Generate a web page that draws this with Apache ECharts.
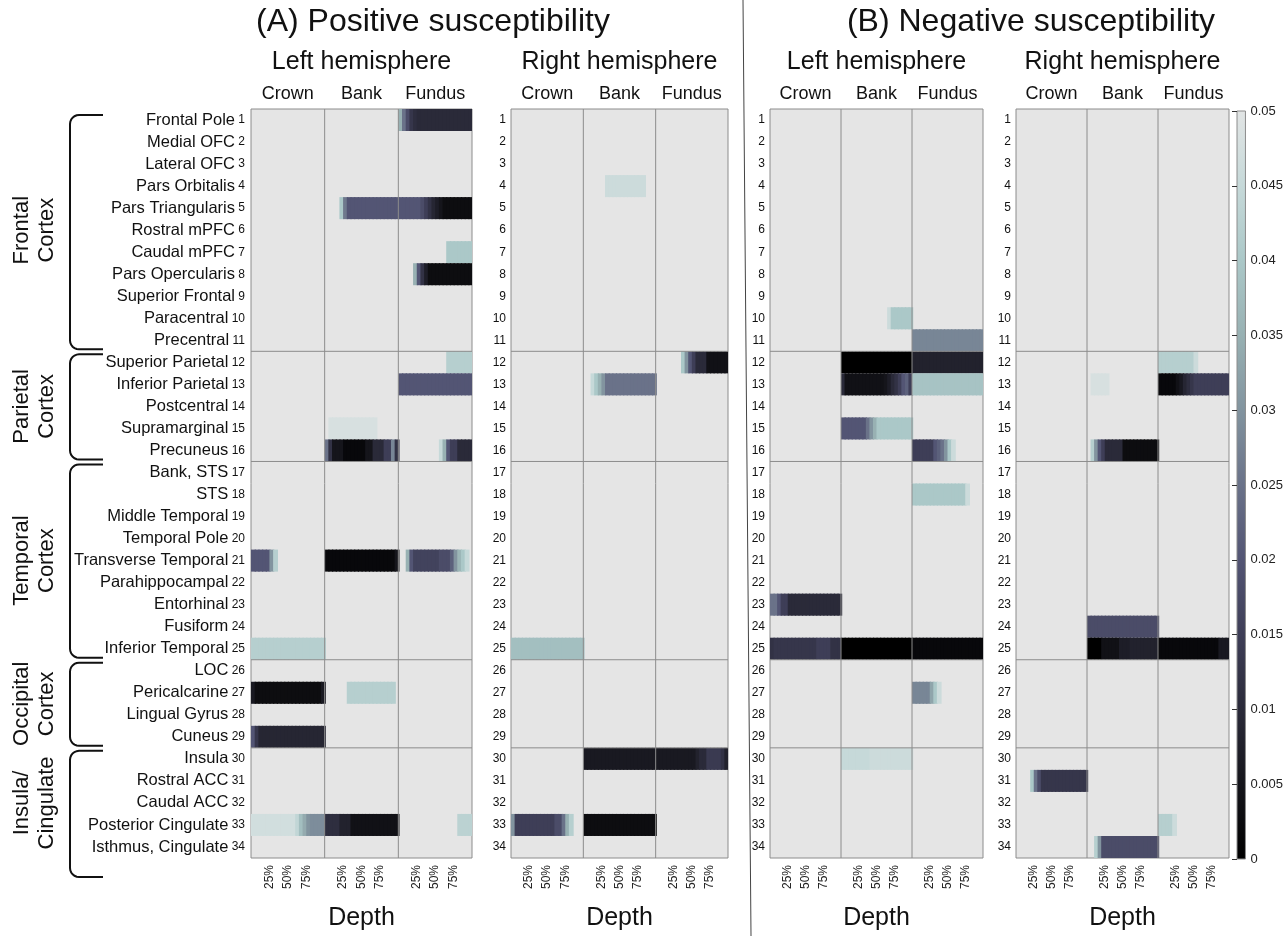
<!DOCTYPE html>
<html>
<head>
<meta charset="utf-8" />
<title>Positive and negative susceptibility by depth</title>
<script src="https://cdn.jsdelivr.net/npm/echarts@6/dist/echarts.min.js"></script>
<style>body{margin:0;background:#fff}</style>
</head>
<body>
<div id="grafico" style="width:1286px;height:936px"></div>
<script>
const _ = null; // not significant

const regions = ['Frontal Pole','Medial OFC','Lateral OFC','Pars Orbitalis','Pars Triangularis','Rostral mPFC',
  'Caudal mPFC','Pars Opercularis','Superior Frontal','Paracentral','Precentral','Superior Parietal',
  'Inferior Parietal','Postcentral','Supramarginal','Precuneus','Bank, STS','STS','Middle Temporal',
  'Temporal Pole','Transverse Temporal','Parahippocampal','Entorhinal','Fusiform','Inferior Temporal',
  'LOC','Pericalcarine','Lingual Gyrus','Cuneus','Insula','Rostral ACC','Caudal ACC',
  'Posterior Cingulate','Isthmus, Cingulate'];
const rowNumbers = regions.map((r, i) => String(i + 1));
const lobeNames = ['Frontal\nCortex', 'Parietal\nCortex', 'Temporal\nCortex', 'Occipital\nCortex', 'Insula/\nCingulate'];
const lobeEnds = [11, 16, 25, 29, 34];
const parts = ['Crown', 'Bank', 'Fundus'];
const depthTicks = ['25%', '50%', '75%'];
const groupTitles = ['(A) Positive susceptibility', '(B) Negative susceptibility'];
const panelTitles = ['Left hemisphere', 'Right hemisphere', 'Left hemisphere', 'Right hemisphere'];
const ramp = ['#000000','#15151b','#2a2a39','#3e3e57','#535574','#6a7289','#82949f','#98b1b3','#abc8c8','#c6d9d9','#e2e5e5'];
const BINS = 20; // depth samples per compartment, 0-100%

// [row, compartment (0 crown, 1 bank, 2 fundus), p-value per depth bin]
const posLeft = [
  [1, 2, [0.035,0.025,0.018,0.013,0.011,0.01,0.01,0.01,0.01,0.01,0.01,0.01,0.01,0.01,0.01,0.01,0.01,0.01,0.01,0.01]],
  [5, 1, [_,_,_,_,0.04,0.026,0.02,0.02,0.02,0.02,0.02,0.02,0.02,0.02,0.02,0.02,0.02,0.02,0.02,0.02]],
  [5, 2, [0.02,0.02,0.02,0.02,0.02,0.02,0.018,0.015,0.012,0.009,0.007,0.005,0.003,0.003,0.003,0.003,0.003,0.003,0.003,0.003]],
  [7, 2, [_,_,_,_,_,_,_,_,_,_,_,_,_,0.04,0.04,0.04,0.04,0.04,0.04,0.04]],
  [8, 2, [_,_,_,_,0.035,0.02,0.012,0.007,0.003,0.003,0.003,0.003,0.003,0.003,0.003,0.003,0.003,0.003,0.003,0.003]],
  [12, 2, [_,_,_,_,_,_,_,_,_,_,_,_,_,0.042,0.042,0.042,0.042,0.042,0.042,0.042]],
  [13, 2, [0.02,0.02,0.02,0.02,0.02,0.02,0.02,0.02,0.02,0.02,0.02,0.02,0.02,0.02,0.02,0.02,0.02,0.02,0.02,0.02]],
  [15, 1, [_,0.048,0.048,0.048,0.048,0.048,0.048,0.048,0.048,0.048,0.048,0.048,0.048,0.048,_,_,_,_,_,_]],
  [16, 1, [0.025,0.012,0.005,0.005,0.005,0.002,0.002,0.002,0.002,0.002,0.002,0.005,0.005,0.01,0.01,0.01,0.015,0.015,0.028,0.012]],
  [16, 2, [_,_,_,_,_,_,_,_,_,_,_,0.045,0.035,0.02,0.015,0.015,0.01,0.01,0.01,0.01]],
  [21, 0, [0.02,0.02,0.02,0.02,0.02,0.03,0.042,_,_,_,_,_,_,_,_,_,_,_,_,_]],
  [21, 1, [0.002,0.002,0.002,0.002,0.002,0.002,0.002,0.002,0.002,0.002,0.002,0.002,0.002,0.002,0.002,0.002,0.002,0.002,0.002,0.005]],
  [21, 2, [_,_,0.035,0.02,0.016,0.016,0.016,0.016,0.016,0.016,0.016,0.018,0.018,0.018,0.022,0.03,0.036,0.04,0.045,_]],
  [25, 0, [0.042,0.042,0.042,0.042,0.042,0.042,0.042,0.042,0.042,0.042,0.042,0.042,0.042,0.042,0.042,0.042,0.042,0.042,0.042,0.042]],
  [27, 0, [0.006,0.003,0.003,0.003,0.003,0.003,0.003,0.003,0.003,0.003,0.003,0.003,0.003,0.003,0.003,0.003,0.003,0.003,0.003,0.006]],
  [27, 1, [_,_,_,_,_,_,0.042,0.042,0.042,0.042,0.042,0.042,0.042,0.042,0.042,0.042,0.042,0.042,0.042,_]],
  [29, 0, [0.02,0.013,0.009,0.009,0.009,0.009,0.009,0.009,0.009,0.009,0.009,0.009,0.009,0.009,0.009,0.009,0.009,0.009,0.009,0.009]],
  [33, 0, [0.047,0.047,0.047,0.047,0.047,0.047,0.047,0.047,0.047,0.047,0.047,0.047,0.044,0.038,0.034,0.03,0.029,0.029,0.029,0.029]],
  [33, 1, [0.011,0.011,0.011,0.011,0.008,0.008,0.008,0.004,0.004,0.004,0.004,0.004,0.004,0.004,0.004,0.004,0.004,0.004,0.004,0.004]],
  [33, 2, [_,_,_,_,_,_,_,_,_,_,_,_,_,_,_,_,0.043,0.043,0.043,0.043]]
];
const posRight = [
  [4, 1, [_,_,_,_,_,_,0.046,0.046,0.046,0.046,0.046,0.046,0.046,0.046,0.046,0.046,0.046,_,_,_]],
  [12, 2, [_,_,_,_,_,_,_,0.04,0.03,0.02,0.015,0.01,0.01,0.01,0.004,0.004,0.004,0.004,0.004,0.004]],
  [13, 1, [_,_,0.045,0.04,0.035,0.03,0.025,0.025,0.025,0.025,0.025,0.025,0.025,0.025,0.025,0.025,0.025,0.025,0.025,0.025]],
  [25, 0, [0.038,0.038,0.038,0.038,0.038,0.038,0.038,0.038,0.038,0.038,0.038,0.038,0.038,0.038,0.038,0.038,0.038,0.038,0.038,0.038]],
  [30, 1, [0.006,0.006,0.006,0.006,0.006,0.006,0.006,0.006,0.006,0.006,0.006,0.006,0.006,0.006,0.006,0.006,0.006,0.006,0.006,0.006]],
  [30, 2, [0.006,0.006,0.006,0.006,0.006,0.006,0.006,0.006,0.006,0.006,0.006,0.008,0.01,0.01,0.014,0.014,0.014,0.014,0.012,0.008]],
  [33, 0, [0.03,0.015,0.015,0.015,0.015,0.015,0.015,0.015,0.015,0.015,0.015,0.015,0.018,0.018,0.025,0.035,0.042,_,_,_]],
  [33, 1, [0.003,0.003,0.003,0.003,0.003,0.003,0.003,0.003,0.003,0.003,0.003,0.003,0.003,0.003,0.003,0.003,0.003,0.003,0.003,0.003]]
];
const negLeft = [
  [10, 1, [_,_,_,_,_,_,_,_,_,_,_,_,_,0.046,0.04,0.04,0.04,0.04,0.04,0.04]],
  [11, 2, [0.028,0.028,0.028,0.028,0.028,0.028,0.028,0.028,0.028,0.028,0.028,0.028,0.028,0.028,0.028,0.028,0.028,0.028,0.028,0.028]],
  [12, 1, [0,0,0,0,0,0,0,0,0,0,0,0,0,0,0,0,0,0,0,0]],
  [12, 2, [0.008,0.008,0.008,0.008,0.008,0.008,0.008,0.008,0.008,0.008,0.008,0.008,0.008,0.008,0.008,0.008,0.008,0.008,0.008,0.008]],
  [13, 1, [0.01,0.004,0.004,0.004,0.004,0.004,0.004,0.004,0.004,0.004,0.004,0.004,0.005,0.007,0.01,0.012,0.015,0.02,0.022,0.015]],
  [13, 2, [0.039,0.039,0.039,0.039,0.039,0.039,0.039,0.039,0.039,0.039,0.039,0.039,0.039,0.039,0.039,0.039,0.039,0.039,0.039,0.039]],
  [15, 1, [0.02,0.02,0.02,0.02,0.02,0.02,0.02,0.025,0.03,0.035,0.04,0.04,0.04,0.04,0.04,0.04,0.04,0.04,0.04,0.04]],
  [16, 2, [0.015,0.015,0.015,0.015,0.015,0.015,0.02,0.022,0.025,0.03,0.04,0.046,_,_,_,_,_,_,_,_]],
  [18, 2, [0.04,0.04,0.04,0.04,0.04,0.04,0.04,0.04,0.04,0.04,0.04,0.04,0.04,0.04,0.04,0.046,_,_,_,_]],
  [23, 0, [0.025,0.025,0.02,0.015,0.015,0.01,0.01,0.01,0.01,0.01,0.01,0.01,0.01,0.01,0.01,0.01,0.01,0.01,0.01,0.01]],
  [25, 0, [0.012,0.013,0.013,0.013,0.013,0.013,0.013,0.013,0.013,0.013,0.013,0.013,0.013,0.015,0.015,0.015,0.015,0.012,0.012,0.012]],
  [25, 1, [0,0,0,0,0,0,0,0,0,0,0,0,0,0,0,0,0,0,0,0]],
  [25, 2, [0.002,0.002,0.002,0.002,0.002,0.002,0.002,0.002,0.002,0.002,0.002,0.002,0.002,0.002,0.002,0.002,0.002,0.002,0.002,0.002]],
  [27, 2, [0.028,0.028,0.028,0.028,0.028,0.033,0.04,0.046,_,_,_,_,_,_,_,_,_,_,_,_]],
  [30, 1, [0.045,0.045,0.045,0.045,0.045,0.045,0.045,0.045,0.046,0.046,0.046,0.046,0.046,0.046,0.046,0.046,0.046,0.046,0.046,0.046]]
];
const negRight = [
  [12, 2, [0.042,0.042,0.042,0.042,0.042,0.042,0.042,0.042,0.042,0.042,0.046,_,_,_,_,_,_,_,_,_]],
  [13, 1, [_,0.048,0.048,0.048,0.048,0.048,_,_,_,_,_,_,_,_,_,_,_,_,_,_]],
  [13, 2, [0.002,0.002,0.002,0.002,0.002,0.004,0.006,0.009,0.011,0.013,0.015,0.015,0.015,0.015,0.015,0.015,0.015,0.015,0.015,0.015]],
  [16, 1, [_,0.042,0.03,0.02,0.015,0.01,0.01,0.01,0.01,0.01,0.003,0.003,0.003,0.003,0.003,0.003,0.003,0.003,0.003,0.003]],
  [24, 1, [0.018,0.018,0.018,0.018,0.018,0.018,0.018,0.018,0.018,0.018,0.018,0.018,0.018,0.018,0.018,0.018,0.018,0.018,0.018,0.018]],
  [25, 1, [0,0,0,0,0.004,0.004,0.004,0.004,0.004,0.007,0.007,0.007,0.008,0.008,0.008,0.008,0.008,0.008,0.008,0.008]],
  [25, 2, [0.002,0.002,0.002,0.002,0.002,0.002,0.002,0.002,0.002,0.002,0.002,0.002,0.002,0.002,0.002,0.002,0.002,0.006,0.006,0.006]],
  [31, 0, [_,_,_,_,0.04,0.025,0.018,0.013,0.013,0.013,0.013,0.013,0.013,0.013,0.013,0.013,0.013,0.013,0.013,0.013]],
  [33, 2, [0.042,0.042,0.042,0.042,0.046,_,_,_,_,_,_,_,_,_,_,_,_,_,_,_]],
  [34, 1, [_,_,0.042,0.03,0.018,0.018,0.018,0.018,0.018,0.018,0.018,0.018,0.018,0.018,0.018,0.018,0.018,0.018,0.018,0.018]]
];
const panels = [posLeft, posRight, negLeft, negRight];

function toItems(cells) {
  const out = [];
  cells.forEach(([row, part, vals]) => {
    vals.forEach((v, k) => { if (v !== null) out.push([part + k / BINS, row, v]); });
  });
  return out;
}

function drawCell(params, api) {
  const x = api.value(0), row = api.value(1);
  const a = api.coord([x, row - 1]);
  const b = api.coord([x + 1 / BINS, row]);
  return {
    type: 'rect',
    shape: {x: a[0], y: a[1], width: b[0] - a[0] + 1.2, height: b[1] - a[1]},
    style: {fill: api.visual('color'), lineWidth: 0}
  };
}

function drawRule(params, api) {
  const cs = params.coordSys;
  const p = api.coord([api.value(0), api.value(1)]);
  const horiz = api.value(0) === 0;
  return {
    type: 'line',
    shape: horiz ? {x1: cs.x, y1: p[1], x2: cs.x + cs.width, y2: p[1]}
                 : {x1: p[0], y1: cs.y, x2: p[0], y2: cs.y + cs.height},
    style: {stroke: '#8c8c8c', lineWidth: 1}
  };
}

const gridBoxes = [[251, 221], [511, 217], [770, 213], [1016, 213]];
const grid = [], xAxis = [], yAxis = [], series = [];
const ruleData = lobeEnds.slice(0, -1).map(r => [0, r]).concat([[1, 0], [2, 0]]);

panels.forEach((cells, p) => {
  grid.push({left: gridBoxes[p][0], width: gridBoxes[p][1], top: 109, height: 749,
    show: true, backgroundColor: '#e5e5e5', borderColor: '#8c8c8c', borderWidth: 1});
  xAxis.push({
    type: 'value', gridIndex: p, min: 0, max: 3, interval: 0.25, position: 'bottom',
    axisLine: {show: false}, axisTick: {show: false}, splitLine: {show: false},
    axisLabel: {rotate: 90, fontSize: 12, color: '#222', margin: 7,
      formatter: v => depthTicks[Math.round((v % 1) * 4) - 1] || ''},
    name: 'Depth', nameLocation: 'middle', nameGap: 48,
    nameTextStyle: {fontSize: 25, color: '#111'}
  });
  xAxis.push({
    type: 'category', gridIndex: p, position: 'top', data: parts,
    axisLine: {show: false}, axisTick: {show: false},
    axisLabel: {interval: 0, fontSize: 18, color: '#111', margin: 6},
    name: panelTitles[p], nameLocation: 'middle', nameGap: 34,
    nameTextStyle: {fontSize: 25, color: '#111'}
  });
  yAxis.push({
    type: 'category', gridIndex: p, data: rowNumbers, inverse: true,
    axisLine: {show: false}, axisTick: {show: false},
    axisLabel: p === 0 ? {
      interval: 0, margin: 6, fontSize: 12, color: '#111',
      formatter: (v, i) => '{n|' + regions[i] + '} {i|' + v + '}',
      rich: {n: {fontSize: 16.5, color: '#111'}, i: {fontSize: 12, color: '#111'}}
    } : {interval: 0, margin: 5, fontSize: 12, color: '#111'}
  });
  yAxis.push({type: 'value', gridIndex: p, min: 0, max: 34, inverse: true, show: false});
  series.push({
    type: 'custom', xAxisIndex: 2 * p, yAxisIndex: 2 * p + 1, clip: true,
    renderItem: drawCell, encode: {x: 0, y: 1}, data: toItems(cells), silent: true
  });
});
panels.forEach((cells, p) => {
  series.push({
    type: 'custom', xAxisIndex: 2 * p, yAxisIndex: 2 * p + 1, z: 5,
    renderItem: drawRule, encode: {x: 0, y: 1}, data: ruleData, silent: true
  });
});

// colour bar
const stops = ramp.map((c, i) => ({offset: 1 - i / (ramp.length - 1), color: c})).reverse();
grid.push({left: 1237, width: 11, top: 111, height: 748, show: true, borderColor: '#8c8c8c', borderWidth: 1,
  backgroundColor: {type: 'linear', x: 0, y: 0, x2: 0, y2: 1, colorStops: stops}});
xAxis.push({type: 'value', gridIndex: 4, min: 0, max: 1, show: false});
yAxis.push({
  type: 'value', gridIndex: 4, min: 0, max: 0.05, interval: 0.005, position: 'right',
  axisLine: {show: false}, splitLine: {show: false},
  axisTick: {show: true, inside: true, length: 5, lineStyle: {color: '#333'}},
  axisLabel: {fontSize: 13, color: '#222', margin: 5}
});

const option = {
  animation: false,
  textStyle: {fontFamily: 'Liberation Sans, Arial, sans-serif'},
  grid, xAxis, yAxis, series,
  visualMap: {type: 'continuous', show: false, min: 0, max: 0.05, dimension: 2,
    seriesIndex: [0, 1, 2, 3], inRange: {color: ramp}},
  graphic: [
    {type: 'text', x: 433, y: 22, style: {text: groupTitles[0], fontSize: 32, fill: '#111',
      textAlign: 'center', textVerticalAlign: 'middle', align: 'center', verticalAlign: 'middle'}},
    {type: 'text', x: 1031, y: 22, style: {text: groupTitles[1], fontSize: 32, fill: '#111',
      textAlign: 'center', textVerticalAlign: 'middle', align: 'center', verticalAlign: 'middle'}},
    {type: 'line', shape: {x1: 743, y1: 0, x2: 751, y2: 936}, style: {stroke: '#444', lineWidth: 1}}
  ]
};

const chart = echarts.init(document.getElementById('grafico'));
chart.setOption(option);

// lobe brackets and labels, placed from the row axis
const yPix = v => chart.convertToPixel({seriesIndex: 0}, [0, v])[1];
const extra = [];
lobeNames.forEach((name, i) => {
  const r0 = i === 0 ? 0 : lobeEnds[i - 1];
  const r1 = lobeEnds[i];
  const y0 = yPix(r0) + (i === 0 ? 6 : 3);
  const y1 = yPix(r1) + (i === lobeNames.length - 1 ? 19 : -2);
  const xv = 70, xe = 103, r = 9, pts = [[xe, y0], [xv + r, y0]];
  for (let k = 1; k <= 6; k++) {
    const t = k / 6 * Math.PI / 2;
    pts.push([xv + r - r * Math.sin(t), y0 + r - r * Math.cos(t)]);
  }
  for (let k = 0; k <= 6; k++) {
    const t = k / 6 * Math.PI / 2;
    pts.push([xv + r - r * Math.cos(t), y1 - r + r * Math.sin(t)]);
  }
  pts.push([xe, y1]);
  extra.push({type: 'polyline', shape: {points: pts}, style: {stroke: '#111', lineWidth: 2, fill: null}});
  extra.push({type: 'text', x: 34, y: (yPix(r0) + yPix(r1)) / 2, rotation: Math.PI / 2,
    style: {text: name, fontSize: 22, lineHeight: 25, fill: '#111',
      textAlign: 'center', textVerticalAlign: 'middle', align: 'center', verticalAlign: 'middle'}});
});
chart.setOption({graphic: option.graphic.concat(extra)});
</script>
</body>
</html>
